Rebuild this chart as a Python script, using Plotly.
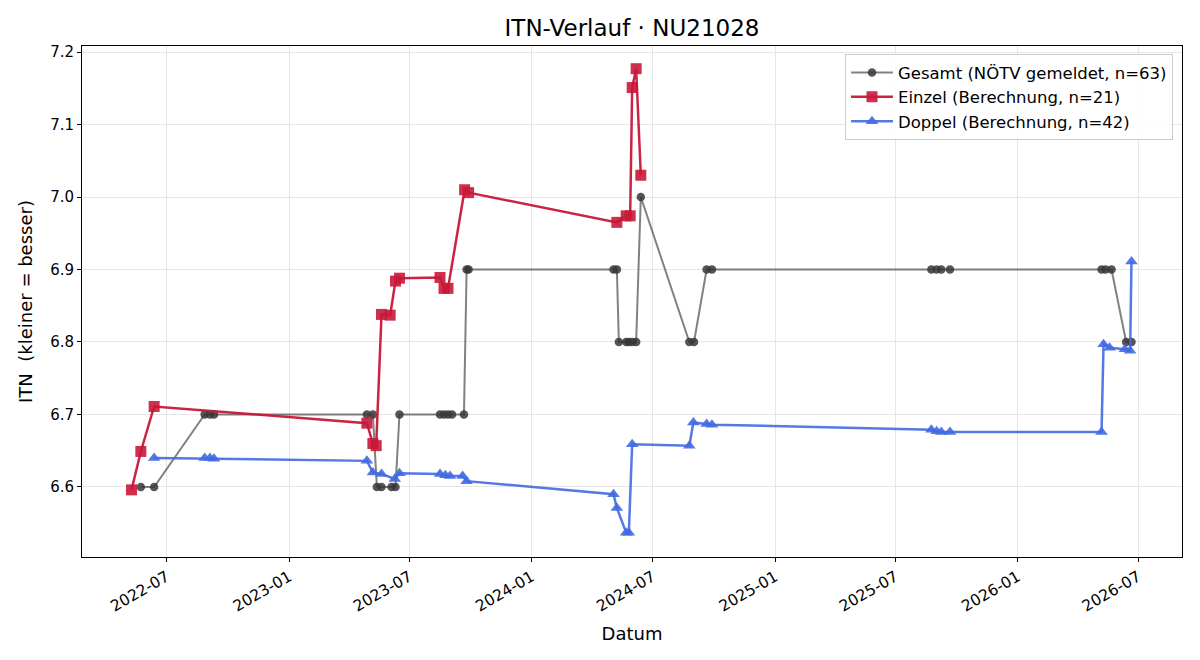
import plotly.graph_objects as go

# ---------------- data ----------------
gesamt_dates = [
    "2022-05-23", "2022-06-12", "2022-08-27", "2022-09-04", "2022-09-10",
    "2023-04-28", "2023-05-07", "2023-05-13", "2023-05-20", "2023-06-04",
    "2023-06-10", "2023-06-16", "2023-08-16", "2023-08-22", "2023-08-28",
    "2023-09-03", "2023-09-21", "2023-09-25", "2023-09-28",
    "2024-05-03", "2024-05-08", "2024-05-11", "2024-05-22", "2024-05-26",
    "2024-05-31", "2024-06-06", "2024-06-13",
    "2024-08-25", "2024-09-01", "2024-09-20", "2024-09-28",
    "2025-08-24", "2025-09-01", "2025-09-08", "2025-09-21",
    "2026-05-07", "2026-05-13", "2026-05-22", "2026-06-13", "2026-06-21",
]
gesamt_vals = [
    6.6, 6.6, 6.7, 6.7, 6.7,
    6.7, 6.7, 6.6, 6.6, 6.6,
    6.6, 6.7, 6.7, 6.7, 6.7,
    6.7, 6.7, 6.9, 6.9,
    6.9, 6.9, 6.8, 6.8, 6.8,
    6.8, 6.8, 7.0,
    6.8, 6.8, 6.9, 6.9,
    6.9, 6.9, 6.9, 6.9,
    6.9, 6.9, 6.9, 6.8, 6.8,
]

einzel_dates = [
    "2022-05-09", "2022-05-23", "2022-06-12",
    "2023-04-28", "2023-05-07", "2023-05-12", "2023-05-20", "2023-06-02",
    "2023-06-10", "2023-06-16", "2023-08-16", "2023-08-22", "2023-08-28",
    "2023-09-22", "2023-09-28",
    "2024-05-08", "2024-05-22", "2024-05-28", "2024-05-31", "2024-06-06",
    "2024-06-13",
]
einzel_vals = [
    6.596, 6.649, 6.711,
    6.688, 6.660, 6.657, 6.838, 6.837,
    6.884, 6.888, 6.889, 6.874, 6.874,
    7.010, 7.006,
    6.965, 6.974, 6.974, 7.151, 7.177,
    7.030,
]

doppel_dates = [
    "2022-06-12", "2022-08-27", "2022-09-04", "2022-09-10",
    "2023-04-28", "2023-05-07", "2023-05-20", "2023-06-09", "2023-06-16",
    "2023-08-16", "2023-08-24", "2023-08-31", "2023-09-19", "2023-09-25",
    "2024-05-03", "2024-05-08", "2024-05-22", "2024-05-26", "2024-05-31",
    "2024-08-25", "2024-08-31", "2024-09-20", "2024-09-28",
    "2025-08-24", "2025-09-01", "2025-09-08", "2025-09-21",
    "2026-05-07", "2026-05-10", "2026-05-19", "2026-06-11", "2026-06-19",
    "2026-06-21",
]
doppel_vals = [
    6.640, 6.640, 6.640, 6.639,
    6.636, 6.620, 6.618, 6.611, 6.619,
    6.618, 6.616, 6.615, 6.615, 6.608,
    6.590, 6.571, 6.537, 6.537, 6.659,
    6.657, 6.689, 6.687, 6.686,
    6.679, 6.677, 6.676, 6.676,
    6.676, 6.797, 6.792, 6.790, 6.788,
    6.911,
]

x_ticks = ["2022-07-01", "2023-01-01", "2023-07-01", "2024-01-01", "2024-07-01",
           "2025-01-01", "2025-07-01", "2026-01-01", "2026-07-01"]
x_tick_labels = ["2022-07", "2023-01", "2023-07", "2024-01", "2024-07",
                 "2025-01", "2025-07", "2026-01", "2026-07"]
y_ticks = [6.6, 6.7, 6.8, 6.9, 7.0, 7.1, 7.2]

# ---------------- figure ----------------
FONT = "DejaVu Sans, Liberation Sans, sans-serif"

fig = go.Figure()
fig.add_trace(go.Scatter(
    x=gesamt_dates, y=gesamt_vals, mode="lines+markers",
    name="Gesamt (NÖTV gemeldet, n=63)",
    line=dict(color="rgba(51,51,51,0.62)", width=2),
    marker=dict(symbol="circle", size=8.5, color="rgba(55,55,55,0.85)"),
))
fig.add_trace(go.Scatter(
    x=einzel_dates, y=einzel_vals, mode="lines+markers",
    name="Einzel (Berechnung, n=21)",
    line=dict(color="rgba(200,24,56,0.95)", width=2.5),
    marker=dict(symbol="square", size=11, color="rgba(200,24,56,0.9)"),
))
fig.add_trace(go.Scatter(
    x=doppel_dates, y=doppel_vals, mode="lines+markers",
    name="Doppel (Berechnung, n=42)",
    line=dict(color="rgba(65,105,225,0.9)", width=2.5),
    marker=dict(symbol="triangle-up", size=11, color="rgba(65,105,225,0.9)"),
))

fig.update_layout(
    width=1200, height=660,
    margin=dict(l=82, r=18, t=46, b=103),
    paper_bgcolor="white", plot_bgcolor="white",
    font=dict(family=FONT, size=15, color="black"),
    title=dict(text="ITN-Verlauf · NU21028", x=0.5, xref="paper", xanchor="center",
               y=0.958, yanchor="middle", font=dict(size=23)),
    legend=dict(x=0.9918, y=0.984, xanchor="right", yanchor="top",
                bgcolor="rgba(255,255,255,0.85)", bordercolor="#cccccc",
                borderwidth=1, font=dict(size=16.5), tracegroupgap=2,
                itemwidth=42),
    showlegend=True,
)
fig.update_xaxes(
    type="date", range=["2022-02-23 12:00", "2026-09-05"],
    tickmode="array", tickvals=x_ticks, ticktext=x_tick_labels,
    tickangle=-30, ticks="outside", ticklen=4, tickcolor="black",
    showline=True, linecolor="black", linewidth=1, mirror=True,
    showgrid=True, gridcolor="#e6e6e6", gridwidth=1, zeroline=False,
    tickfont=dict(size=15.5),
    title=dict(text="Datum", font=dict(size=18), standoff=12),
)
fig.update_yaxes(
    range=[6.5034, 7.2083],
    tickmode="array", tickvals=y_ticks, tickformat=".1f",
    ticks="outside", ticklen=4, tickcolor="black",
    showline=True, linecolor="black", linewidth=1, mirror=True,
    showgrid=True, gridcolor="#e6e6e6", gridwidth=1, zeroline=False,
    tickfont=dict(size=15),
    title=dict(text="ITN\u00a0 (kleiner = besser)", font=dict(size=18), standoff=12),
)

fig.write_html("out.html")
